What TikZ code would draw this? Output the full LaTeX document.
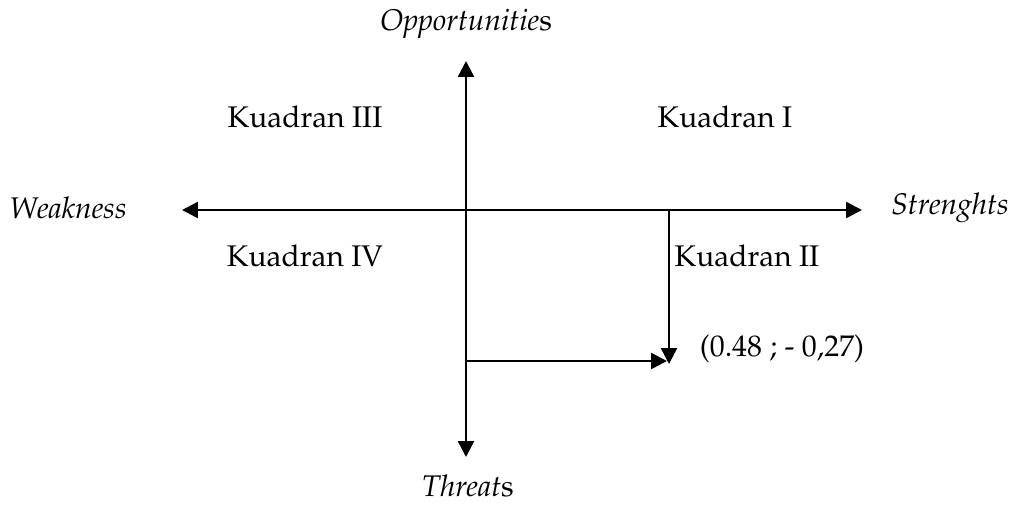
\documentclass[tikz,border=0pt]{standalone}
\usepackage[T1]{fontenc}
\usepackage{mathpazo}
\usetikzlibrary{arrows.meta}

\tikzset{
	axis/.style={line width=1.4pt,-{Triangle[length=9pt,width=9pt]}},
	lbl/.style={font=\fontsize{17pt}{20pt}\selectfont,inner sep=0pt}
}

\begin{document}
\begin{tikzpicture}[x=0.02cm,y=-0.02cm]
		\useasboundingbox (0,0) rectangle (1010,505);
		
		\coordinate (O) at (466,210);
		\coordinate (top) at (466,61); \coordinate (bot) at (466,457);
		\coordinate (lft) at (182,210); \coordinate (rgt) at (862,210);
		
		\draw [axis] (O) -- (top); \draw [axis] (O) -- (bot);
		\draw [axis] (O) -- (lft); \draw [axis] (O) -- (rgt);
		
		% titik posisi
		\coordinate (px) at (669,210); \coordinate (pt) at (669,364);
		\coordinate (py) at (466,361); \coordinate (ph) at (667,361);
		\draw [axis] (px) -- (pt);
		\draw [axis] (py) -- (ph);
		
		\node [lbl] (opp) at (466,24) {\textit{Opportunitie}s};
		\node [lbl] (thr) at (468,486) {\textit{Threat}s};
		\node [lbl] (wk) at (68,208) {\textit{Weakness}};
		\node [lbl] (st) at (950,208) {\textit{Strenghts}};
		
		\node [lbl] (k3) at (305,117) {Kuadran III};
		\node [lbl] (k1) at (725,117) {Kuadran I};
		\node [lbl] (k4) at (305,256) {Kuadran IV};
		\node [lbl] (k2) at (747,256) {Kuadran II};
		\node [lbl] (pos) at (782,349) {(0.48 ; - 0,27)};
\end{tikzpicture}
\end{document}
